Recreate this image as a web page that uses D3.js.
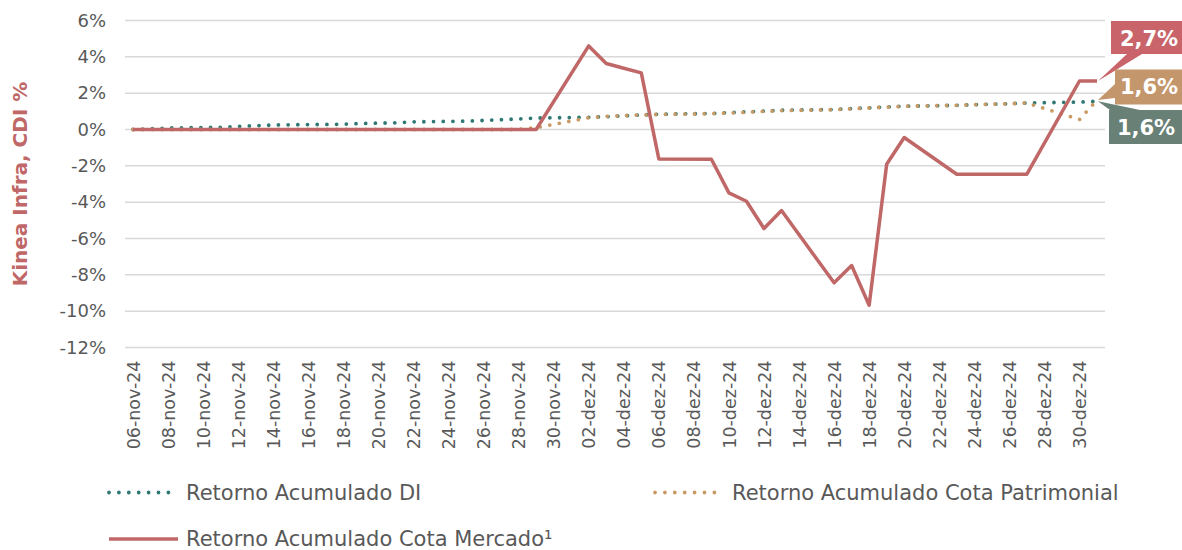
<!DOCTYPE html>
<html>
<head>
<meta charset="utf-8">
<script src="https://cdn.jsdelivr.net/npm/d3@7"></script>
<style>
  html, body { margin: 0; padding: 0; background: #fff; }
  svg { display: block; font-family: "DejaVu Sans", sans-serif; }
</style>
</head>
<body>
<svg id="chart" width="1182" height="550"></svg>
<script>
'use strict';

// data (dias úteis)
const dates = [
	"06-nov-24", "07-nov-24", "08-nov-24", "11-nov-24", "12-nov-24", "13-nov-24", "14-nov-24",
	"18-nov-24", "19-nov-24", "21-nov-24", "22-nov-24", "25-nov-24", "26-nov-24", "27-nov-24",
	"28-nov-24", "29-nov-24", "02-dez-24", "03-dez-24", "04-dez-24", "05-dez-24", "06-dez-24",
	"09-dez-24", "10-dez-24", "11-dez-24", "12-dez-24", "13-dez-24", "16-dez-24", "17-dez-24",
	"18-dez-24", "19-dez-24", "20-dez-24", "23-dez-24", "24-dez-24", "26-dez-24", "27-dez-24",
	"30-dez-24", "31-dez-24"
];

const retornoDI = [
	0.00, 0.04, 0.08, 0.12, 0.17, 0.21, 0.25,
	0.29, 0.33, 0.37, 0.42, 0.46, 0.50, 0.54,
	0.58, 0.63, 0.67, 0.71, 0.75, 0.80, 0.84,
	0.88, 0.93, 0.97, 1.01, 1.06, 1.10, 1.15,
	1.19, 1.24, 1.28, 1.33, 1.37, 1.42, 1.46,
	1.51, 1.55
];

const retornoPatrimonial = [
	0.00, 0.00, 0.00, 0.00, 0.00, 0.00, 0.00,
	0.00, 0.00, 0.00, 0.00, 0.00, 0.00, 0.00,
	0.00, 0.10, 0.65, 0.72, 0.77, 0.80, 0.83,
	0.87, 0.91, 0.95, 1.00, 1.04, 1.09, 1.14,
	1.19, 1.23, 1.28, 1.33, 1.37, 1.42, 1.46,
	0.55, 1.62
];

const retornoMercado = [
	0.00, 0.00, 0.00, 0.00, 0.00, 0.00, 0.00,
	0.00, 0.00, 0.00, 0.00, 0.00, 0.00, 0.00,
	0.00, 0.00, 4.60, 3.63, 3.37, 3.12, -1.62,
	-1.64, -3.49, -3.95, -5.45, -4.46, -8.44, -7.49,
	-9.67, -1.91, -0.44, -2.46, -2.46, -2.46, -2.46,
	2.67, 2.67
];

const seriesNames = [
	"Retorno Acumulado DI",
	"Retorno Acumulado Cota Patrimonial",
	"Retorno Acumulado Cota Mercado¹"
];

const xTickLabels = [
	"06-nov-24", "08-nov-24", "10-nov-24", "12-nov-24", "14-nov-24", "16-nov-24", "18-nov-24",
	"20-nov-24", "22-nov-24", "24-nov-24", "26-nov-24", "28-nov-24", "30-nov-24", "02-dez-24",
	"04-dez-24", "06-dez-24", "08-dez-24", "10-dez-24", "12-dez-24", "14-dez-24", "16-dez-24",
	"18-dez-24", "20-dez-24", "22-dez-24", "24-dez-24", "26-dez-24", "28-dez-24", "30-dez-24"
];

const yTicks = [6, 4, 2, 0, -2, -4, -6, -8, -10, -12];

const yTitle = "Kinea Infra, CDI %";
const calloutLabels = ["2,7%", "1,6%", "1,6%"];

// locale pt-BR para o parse das datas
const pt = d3.timeFormatLocale({
	dateTime: "%A, %e de %B de %Y. %X",
	date: "%d/%m/%Y",
	time: "%H:%M:%S",
	periods: ["AM", "PM"],
	days: ["domingo", "segunda", "terça", "quarta", "quinta", "sexta", "sábado"],
	shortDays: ["dom", "seg", "ter", "qua", "qui", "sex", "sáb"],
	months: ["janeiro", "fevereiro", "março", "abril", "maio", "junho", "julho",
		"agosto", "setembro", "outubro", "novembro", "dezembro"],
	shortMonths: ["jan", "fev", "mar", "abr", "mai", "jun", "jul", "ago", "set", "out", "nov", "dez"]
});
const parse = pt.parse("%d-%b-%y");
const fmt = pt.format("%d-%b-%y");

const colors = {
	di: "#2f7874",
	patrimonial: "#c99a64",
	mercado: "#c06767",
	boxMercado: "#c8646a",
	boxPatrimonial: "#c4966c",
	boxDI: "#688076",
	text: "#595959",
	grid: "#d9d9d9"
};

const svg = d3.select("#chart");

const parsed = dates.map(parse);
const x = d3.scaleTime()
	.domain([parsed[0], parsed[parsed.length - 1]])
	.range([133, 1097]);

const y = d3.scaleLinear()
	.domain([-12, 6])
	.range([347.5, 20.5]);

const gridX0 = 125, gridX1 = 1105;

// gridlines
svg.append("g")
	.selectAll("line")
	.data(yTicks)
	.join("line")
	.attr("x1", gridX0)
	.attr("x2", gridX1)
	.attr("y1", d => y(d))
	.attr("y2", d => y(d))
	.attr("stroke", colors.grid)
	.attr("stroke-width", 1.5);

// eixo y
const yAxis = svg.append("g")
	.attr("transform", `translate(${gridX0},0)`)
	.call(d3.axisLeft(y).tickValues(yTicks).tickFormat(d => d + "%").tickSize(0).tickPadding(19));
yAxis.select(".domain").remove();
yAxis.selectAll("text")
	.attr("font-family", "DejaVu Sans, sans-serif")
	.attr("font-size", 18)
	.attr("fill", colors.text);

// eixo x
const xAxis = svg.append("g")
	.attr("transform", `translate(0,${y(-12)})`)
	.call(d3.axisBottom(x).tickValues(xTickLabels.map(parse)).tickFormat(fmt).tickSize(0));
xAxis.select(".domain").remove();
xAxis.selectAll("text")
	.attr("font-family", "DejaVu Sans, sans-serif")
	.attr("font-size", 17.5)
	.attr("fill", colors.text)
	.attr("text-anchor", "end")
	.attr("transform", "rotate(-90)")
	.attr("x", -13)
	.attr("y", 0)
	.attr("dy", "0.35em");

// título do eixo y
svg.append("text")
	.attr("transform", `translate(27,${(y(6) + y(-12)) / 2}) rotate(-90)`)
	.attr("text-anchor", "middle")
	.attr("font-size", 20)
	.attr("font-weight", "bold")
	.attr("fill", colors.mercado)
	.text(yTitle);

// séries
const line = d3.line()
	.x(d => x(d.date))
	.y(d => y(d.v));

const toPoints = vals => vals.map((v, i) => ({date: parsed[i], v}));

svg.append("path")
	.datum(toPoints(retornoDI))
	.attr("d", line)
	.attr("fill", "none")
	.attr("stroke", colors.di)
	.attr("stroke-width", 3.8)
	.attr("stroke-linecap", "round")
	.attr("stroke-dasharray", "0 9.7");

svg.append("path")
	.datum(toPoints(retornoPatrimonial))
	.attr("d", line)
	.attr("fill", "none")
	.attr("stroke", colors.patrimonial)
	.attr("stroke-width", 3.8)
	.attr("stroke-linecap", "round")
	.attr("stroke-dasharray", "0 9.7");

svg.append("path")
	.datum(toPoints(retornoMercado))
	.attr("d", line)
	.attr("fill", "none")
	.attr("stroke", colors.mercado)
	.attr("stroke-width", 3.5)
	.attr("stroke-linejoin", "round");

// rótulos do último ponto
const last = parsed.length - 1;
const tipX = x(parsed[last]) + 1;
const callouts = [
	{
		label: calloutLabels[0], fill: colors.boxMercado,
		box: [1111, 21, 90, 33], tip: [tipX, y(retornoMercado[last])],
		base: [[1127, 54], [1142, 54]], tx: 1149, ty: 46
	},
	{
		label: calloutLabels[1], fill: colors.boxPatrimonial,
		box: [1115, 69.5, 90, 35], tip: [tipX, y(retornoPatrimonial[last])],
		base: [[1115, 84], [1115, 98]], tx: 1149, ty: 94
	},
	{
		label: calloutLabels[2], fill: colors.boxDI,
		box: [1109, 110, 90, 34], tip: [tipX, y(retornoDI[last])],
		base: [[1110, 110], [1140, 110]], tx: 1146, ty: 135
	}
];

const cg = svg.append("g")
	.selectAll("g")
	.data(callouts)
	.join("g");

cg.append("path")
	.attr("d", d => `M${d.tip[0]},${d.tip[1]}L${d.base[0][0]},${d.base[0][1]}L${d.base[1][0]},${d.base[1][1]}Z`)
	.attr("fill", d => d.fill);

cg.append("rect")
	.attr("x", d => d.box[0])
	.attr("y", d => d.box[1])
	.attr("width", d => d.box[2])
	.attr("height", d => d.box[3])
	.attr("fill", d => d.fill);

cg.append("text")
	.attr("x", d => d.tx)
	.attr("y", d => d.ty)
	.attr("text-anchor", "middle")
	.attr("font-size", 21)
	.attr("font-weight", "bold")
	.attr("fill", "#fff")
	.text(d => d.label);

// legenda
const legend = [
	{name: seriesNames[0], color: colors.di, dotted: true, x: 109, y: 492.5, len: 60},
	{name: seriesNames[1], color: colors.patrimonial, dotted: true, x: 655, y: 492.5, len: 60},
	{name: seriesNames[2], color: colors.mercado, dotted: false, x: 109, y: 539, len: 69}
];

const lg = svg.append("g")
	.selectAll("g")
	.data(legend)
	.join("g")
	.attr("transform", d => `translate(${d.x},${d.y})`);

lg.append("line")
	.attr("x1", 0)
	.attr("x2", d => d.len)
	.attr("stroke", d => d.color)
	.attr("stroke-width", d => d.dotted ? 3.8 : 3.5)
	.attr("stroke-linecap", d => d.dotted ? "round" : "butt")
	.attr("stroke-dasharray", d => d.dotted ? "0 9.9" : null);

lg.append("text")
	.attr("x", d => d.dotted ? d.len + 17 : d.len + 8)
	.attr("y", d => d.dotted ? 7.5 : 6.5)
	.attr("font-size", 21)
	.attr("fill", colors.text)
	.text(d => d.name);
</script>
</body>
</html>
